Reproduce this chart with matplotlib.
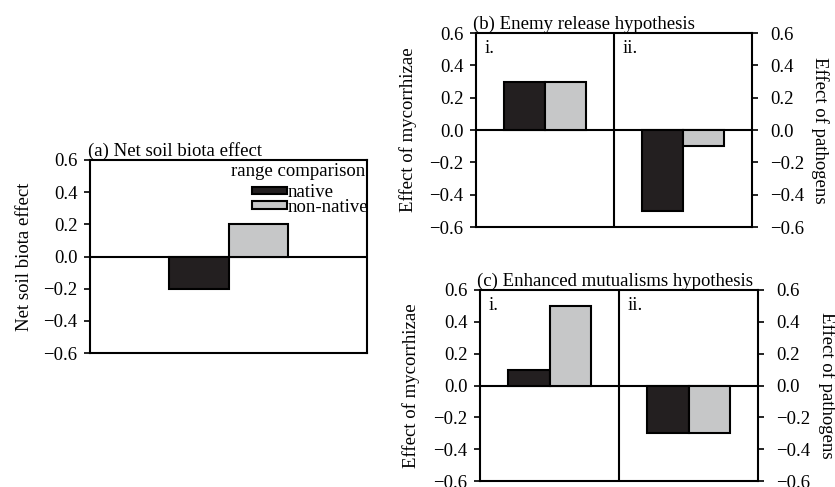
import matplotlib
matplotlib.use("Agg")
import matplotlib.pyplot as plt

plt.rcParams['font.family'] = ['Liberation Serif', 'DejaVu Serif']
plt.rcParams['font.size'] = 13.5

# values
groups = ['native', 'non-native']
colors = ['#231f20', '#c6c7c8']
net_effect = [-0.2, 0.2]
enemy_myc = [0.3, 0.3]
enemy_path = [-0.5, -0.1]
mutual_myc = [0.1, 0.5]
mutual_path = [-0.3, -0.3]
yticks = [-0.6, -0.4, -0.2, 0.0, 0.2, 0.4, 0.6]
ylabels = ['\u22120.6', '\u22120.4', '\u22120.2', '0.0', '0.2', '0.4', '0.6']

fig = plt.figure(figsize=(8.35, 4.87), dpi=100)
W, H = 835.0, 487.0


def box(px0, py0, px1, py1):
    # pixel box -> figure fraction
    return [px0 / W, 1 - py1 / H, (px1 - px0) / W, (py1 - py0) / H]


def style(ax):
    ax.set_ylim(-0.6, 0.6)
    ax.set_yticks(yticks)
    ax.set_yticklabels(ylabels)
    ax.set_xticks([])
    ax.tick_params(axis='y', direction='out', length=4, width=1.2, pad=5)
    for s in ax.spines.values():
        s.set_linewidth(1.5)
    ax.axhline(0, color='black', lw=1.5, zorder=1)


# (a)
ax = fig.add_axes(box(90, 160, 367, 353))
style(ax)
ax.set_xlim(0, 1)
w = 0.215
for i, (g, c) in enumerate(zip(groups, colors)):
    ax.bar(0.5 - w / 2 + i * w, net_effect[i], w, color=c, edgecolor='black',
           lw=1.5, label=g, zorder=2)
ax.set_ylabel('Net soil biota effect')
ax.yaxis.set_label_coords(-0.205, 0.5)
ax.text(-0.008, 1.0, '(a) Net soil biota effect', transform=ax.transAxes,
        ha='left', va='bottom')
ax.text(0.995, 0.985, 'range comparison', transform=ax.transAxes,
        ha='right', va='top')
leg = ax.legend(loc='upper right', bbox_to_anchor=(1.005, 0.874), frameon=False,
                handlelength=1.87, handleheight=0.27, handletextpad=0.05,
                labelspacing=-0.15, borderaxespad=0.0, borderpad=0.0)


def split_panel(rect, left_vals, right_vals, title):
    ax = fig.add_axes(rect)
    style(ax)
    ax.set_xlim(0, 2)
    ax.axvline(1, color='black', lw=1.5)
    w = 0.3
    for half, vals in enumerate([left_vals, right_vals]):
        for i, c in enumerate(colors):
            ax.bar(half + 0.5 - w / 2 + i * w, vals[i], w, color=c,
                   edgecolor='black', lw=1.5, zorder=2)
    ax.text(0.03, 0.965, 'i.', transform=ax.transAxes, ha='left', va='top')
    ax.text(0.53, 0.965, 'ii.', transform=ax.transAxes, ha='left', va='top')
    ax.set_ylabel('Effect of mycorrhizae')
    ax.yaxis.set_label_coords(-0.215, 0.5)
    ax.text(-0.012, 1.0, title, transform=ax.transAxes, ha='left', va='bottom')
    ax2 = ax.twinx()
    ax2.set_ylim(-0.6, 0.6)
    ax2.set_yticks(yticks)
    ax2.set_yticklabels(ylabels)
    ax2.tick_params(axis='y', direction='out', length=4, width=1.2, pad=9)
    for s in ax2.spines.values():
        s.set_visible(False)
    ax2.set_ylabel('Effect of pathogens', rotation=270, va='bottom')
    ax2.yaxis.set_label_coords(1.215, 0.5)
    return ax


split_panel(box(476, 33, 752, 227), enemy_myc, enemy_path,
            '(b) Enemy release hypothesis')
split_panel(box(480, 290, 758, 481), mutual_myc, mutual_path,
            '(c) Enhanced mutualisms hypothesis')

fig.savefig('out.png', dpi=100)
